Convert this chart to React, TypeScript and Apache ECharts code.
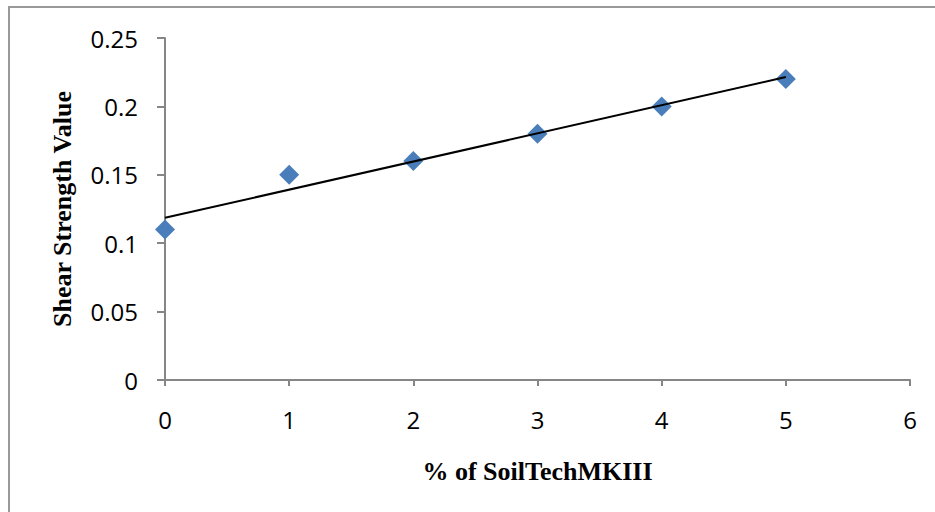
import React, { useEffect, useRef } from "react";
import * as echarts from "echarts";

const percentSoilTech = [0, 1, 2, 3, 4, 5];
const shearStrength = [0.11, 0.15, 0.16, 0.18, 0.2, 0.22];
const xAxisTitle = "% of SoilTechMKIII";
const yAxisTitle = "Shear Strength Value";

function linearFit(xs: number[], ys: number[]) {
  const n = xs.length;
  const mx = xs.reduce((a, b) => a + b, 0) / n;
  const my = ys.reduce((a, b) => a + b, 0) / n;
  let sxy = 0;
  let sxx = 0;
  for (let i = 0; i < n; i++) {
    sxy += (xs[i] - mx) * (ys[i] - my);
    sxx += (xs[i] - mx) * (xs[i] - mx);
  }
  const slope = sxy / sxx;
  return { slope, intercept: my - slope * mx };
}

export default function App() {
  const ref = useRef<HTMLDivElement>(null);
  useEffect(() => {
    if (!ref.current) return;
    const chart = echarts.init(ref.current, null, { renderer: "svg" });
    const fit = linearFit(percentSoilTech, shearStrength);
    const xMin = Math.min(...percentSoilTech);
    const xMax = Math.max(...percentSoilTech);
    const trend = [
      [xMin, fit.intercept + fit.slope * xMin],
      [xMax, fit.intercept + fit.slope * xMax],
    ];
    const axisColor = "#868686";
    const tickFont = { fontFamily: "Open Sans", fontSize: 24, color: "#000" };
    const titleFont = {
      fontFamily: "Liberation Serif",
      fontWeight: "bold" as const,
      fontSize: 26,
      color: "#000",
    };
    chart.setOption({
      animation: false,
      backgroundColor: "#fff",
      graphic: [
        {
          type: "rect",
          shape: { x: 9, y: 7, width: 1000, height: 600 },
          style: { fill: "none", stroke: "#999", lineWidth: 2 },
          silent: true,
        },
      ],
      grid: { left: 165, right: 25, top: 38, bottom: 132 },
      xAxis: {
        type: "value",
        min: 0,
        max: 6,
        interval: 1,
        name: xAxisTitle,
        nameLocation: "middle",
        nameGap: 78,
        nameTextStyle: titleFont,
        axisLine: { show: true, lineStyle: { color: axisColor, width: 2 } },
        axisTick: { show: true, length: 6, lineStyle: { color: axisColor, width: 2 } },
        axisLabel: { ...tickFont, margin: 27 },
        splitLine: { show: false },
      },
      yAxis: {
        type: "value",
        min: 0,
        max: 0.25,
        interval: 0.05,
        name: yAxisTitle,
        nameLocation: "middle",
        nameGap: 90,
        nameTextStyle: titleFont,
        axisLine: { show: true, lineStyle: { color: axisColor, width: 2 } },
        axisTick: { show: true, length: 8, lineStyle: { color: axisColor, width: 2 } },
        axisLabel: { ...tickFont, margin: 27 },
        splitLine: { show: false },
      },
      series: [
        {
          type: "scatter",
          data: percentSoilTech.map((x, i) => [x, shearStrength[i]]),
          symbol: "diamond",
          symbolSize: 20,
          itemStyle: { color: "#4A7EBB", opacity: 1 },
          z: 2,
        },
        {
          type: "line",
          data: trend,
          symbol: "none",
          lineStyle: { color: "#000", width: 2 },
          z: 3,
        },
      ],
    });
    return () => chart.dispose();
  }, []);
  return (
    <div
      ref={ref}
      style={{ position: "fixed", left: 0, top: 0, width: 935, height: 512, background: "#fff" }}
    />
  );
}
